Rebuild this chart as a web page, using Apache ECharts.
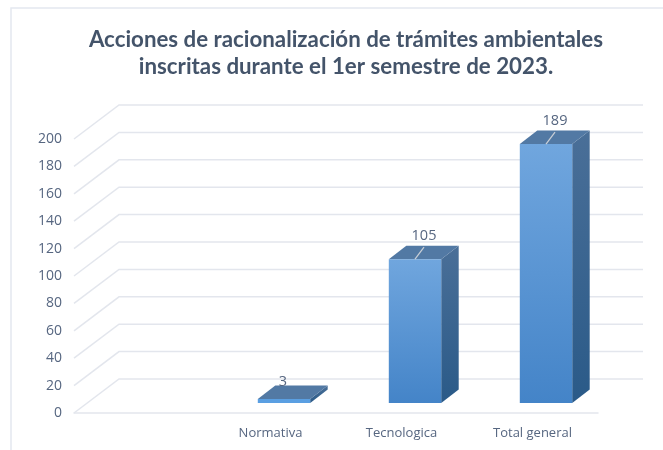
<!DOCTYPE html>
<html lang="es">

<head>
    <meta charset="UTF-8">
    <title>Acciones de racionalización</title>
    <script src="https://cdn.jsdelivr.net/npm/echarts@6/dist/echarts.min.js"></script>
    <style>
        html, body { margin: 0; padding: 0; background: #fff; }
        #chart { width: 663px; height: 450px; }
    </style>
</head>

<body>
    <div id="chart"></div>
</body>
<script>
    // datos (la primera categoria va vacia en el original)
    var categories = ["", "Normativa", "Tecnologica", "Total general"];
    var values = [null, 3, 105, 189];
    var yTicks = [0, 20, 40, 60, 80, 100, 120, 140, 160, 180, 200];
    var titleLines = [
        "Acciones de racionalización de trámites ambientales",
        "inscritas durante el 1er semestre de 2023."
    ];

    var FONT = "'Open Sans', sans-serif";
    var GRID_COLOR = "#e3e6ed";
    var TEXT_COLOR = "#566680";
    // profundidad de la "caja" 3D y de las barras
    var WALL_DX = 45, WALL_DY = 34;
    var BAR_DX = 17.5, BAR_DY = 13.5;
    var BAR_SHIFT_X = 13.5, BAR_SHIFT_Y = 10;

    function vGrad(top, bottom) {
        return new echarts.graphic.LinearGradient(0, 0, 0, 1, [
            { offset: 0, color: top },
            { offset: 1, color: bottom }
        ]);
    }

    // pared del fondo: diagonal + linea horizontal por cada tick
    function renderWall(params, api) {
        var cs = params.coordSys;
        var y = api.coord([0, api.value(1)])[1];
        return {
            type: "polyline",
            silent: true,
            shape: {
                points: [
                    [cs.x, y],
                    [cs.x + WALL_DX, y - WALL_DY],
                    [cs.x + cs.width + WALL_DX, y - WALL_DY]
                ]
            },
            style: { stroke: GRID_COLOR, lineWidth: 1.5, fill: null }
        };
    }

    // barra 3D: cara frontal, tapa, lateral, guia y etiqueta
    function renderBar(params, api) {
        var val = api.value(1);
        if (val == null || isNaN(val)) return null;
        var top = api.coord([api.value(0), val]);
        var base = api.coord([api.value(0), 0]);
        var w = api.size([1, 0])[0] * 0.4;
        var x0 = top[0] - w / 2 + BAR_SHIFT_X;
        var x1 = x0 + w;
        var yT = top[1] - BAR_SHIFT_Y;
        var yB = base[1] - BAR_SHIFT_Y;
        var cx = (x0 + x1) / 2;
        var tall = val > 10;

        var children = [{
            type: "polygon",
            shape: { points: [[x1, yT], [x1 + BAR_DX, yT - BAR_DY], [x1 + BAR_DX, yB - BAR_DY], [x1, yB]] },
            style: { fill: vGrad("#4a6f98", "#2a5a88") }
        }, {
            type: "polygon",
            shape: { points: [[x0, yT], [x0 + BAR_DX, yT - BAR_DY], [x1 + BAR_DX, yT - BAR_DY], [x1, yT]] },
            style: { fill: "#5279a4" }
        }, {
            type: "rect",
            shape: { x: x0, y: yT, width: w, height: yB - yT },
            style: { fill: tall ? vGrad("#70a6de", "#4484c8") : "#5a9fe2" }
        }];
        if (tall) {
            children.push({
                type: "line",
                shape: { x1: cx, y1: yT, x2: cx + 9, y2: yT - 12 },
                style: { stroke: "#c9ced6", lineWidth: 1.2 }
            });
        }
        children.push({
            type: "text",
            style: {
                x: tall ? cx + 9 : cx - 1,
                y: yT - (tall ? 23 : 17),
                text: String(val),
                fill: TEXT_COLOR,
                font: "14.5px " + FONT,
                align: "center",
                verticalAlign: "middle"
            }
        });
        return { type: "group", children: children };
    }

    var chart = echarts.init(document.getElementById("chart"));
    var option = {
        animation: false,
        backgroundColor: "#fff",
        title: {
            text: titleLines.join("\n"),
            left: 341,
            top: 21,
            textAlign: "center",
            textStyle: {
                color: "#44546a",
                fontFamily: "Lato, sans-serif",
                fontWeight: "bold",
                fontSize: 22.3,
                lineHeight: 27
            }
        },
        // borde del recuadro original (arriba e izquierda)
        graphic: [{
            type: "polyline",
            silent: true,
            shape: { points: [[11, 450], [11, 8], [663, 8]] },
            style: { stroke: "#e4e8f0", lineWidth: 1.5, fill: null }
        }],
        grid: { left: 74, right: 65, top: 139, bottom: 37 },
        xAxis: {
            type: "category",
            data: categories,
            axisTick: { show: false },
            axisLine: { lineStyle: { color: GRID_COLOR, width: 1.5 } },
            axisLabel: { color: TEXT_COLOR, fontFamily: FONT, fontSize: 13, margin: 14, interval: 0 },
            splitLine: { show: false }
        },
        yAxis: {
            type: "value",
            min: yTicks[0],
            max: yTicks[yTicks.length - 1],
            interval: yTicks[1] - yTicks[0],
            axisLine: { show: false },
            axisTick: { show: false },
            axisLabel: { color: TEXT_COLOR, fontFamily: FONT, fontSize: 14, margin: 12, padding: [2, 0, 0, 0] },
            splitLine: { show: false }
        },
        series: [{
            type: "custom",
            name: "pared",
            z: 1,
            silent: true,
            renderItem: renderWall,
            data: yTicks.map(function (t) { return [0, t]; })
        }, {
            type: "custom",
            name: "acciones",
            z: 2,
            renderItem: renderBar,
            data: values.map(function (v, i) { return [i, v]; })
        }]
    };
    chart.setOption(option);
</script>

</html>
